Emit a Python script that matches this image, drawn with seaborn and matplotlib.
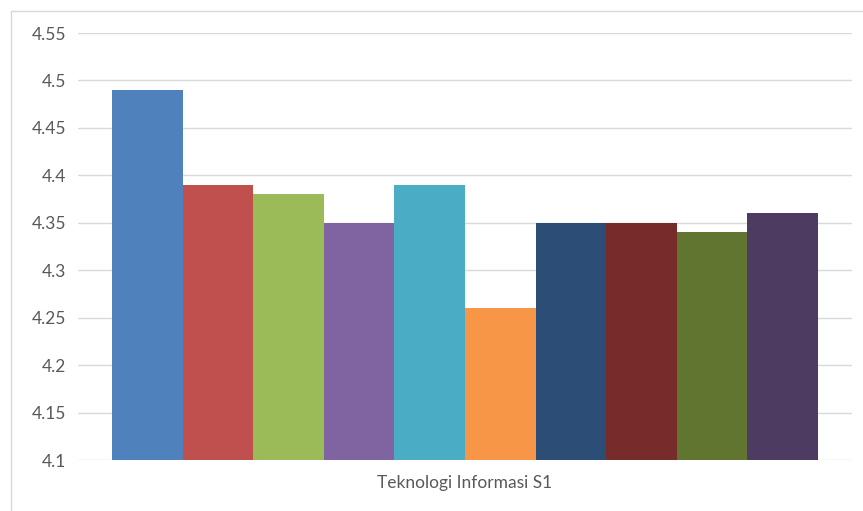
import matplotlib
matplotlib.use("Agg")
import matplotlib.pyplot as plt
from matplotlib.patches import Rectangle
import pandas as pd
import seaborn as sns

category = ["Teknologi Informasi S1"]
series = ["Seri 1", "Seri 2", "Seri 3", "Seri 4", "Seri 5",
          "Seri 6", "Seri 7", "Seri 8", "Seri 9", "Seri 10"]
values = [4.49, 4.39, 4.38, 4.35, 4.39, 4.26, 4.35, 4.35, 4.34, 4.36]
colors = ["#4F81BD", "#C0504D", "#9BBB59", "#8064A2", "#4BACC6",
          "#F79646", "#2C4D75", "#772C2A", "#5F7530", "#4D3B62"]
y_ticks = [4.1, 4.15, 4.2, 4.25, 4.3, 4.35, 4.4, 4.45, 4.5, 4.55]
y_labels = ["4.1", "4.15", "4.2", "4.25", "4.3", "4.35", "4.4", "4.45", "4.5", "4.55"]

df = pd.DataFrame({"kategori": category * len(series),
                   "seri": series,
                   "nilai": values})

sns.set_theme(style="white")
plt.rcParams["font.family"] = ["Lato", "DejaVu Sans"]

fig = plt.figure(figsize=(8.63, 5.11), dpi=100)
ax = fig.add_axes([78 / 863, 1 - 460 / 511, 774 / 863, (460 - 33) / 511])

sns.barplot(data=df, x="kategori", y="nilai", hue="seri", palette=colors,
            width=0.911, gap=0, legend=False, ax=ax, saturation=1,
            linewidth=0, zorder=3)

ax.set_xlim(-0.5, 0.5)
ax.set_ylim(4.1, 4.55)
ax.set_yticks(y_ticks)
ax.set_yticklabels(y_labels)
ax.yaxis.grid(True, color="#D9D9D9", linewidth=1.0, zorder=0)
ax.set_axisbelow(True)
for s in ax.spines.values():
    s.set_visible(False)
ax.tick_params(axis="y", length=0, pad=8.5, labelsize=12.5, labelcolor="#595959")
ax.tick_params(axis="x", length=0, pad=11, labelsize=12.5, labelcolor="#595959")
ax.set_xlabel("")
ax.set_ylabel("")

# light chart-area frame
fig.patches.append(Rectangle((11 / 863, -0.1), 1.2, 1.1 - 11 / 511,
                             transform=fig.transFigure, fill=False,
                             edgecolor="#D9D9D9", linewidth=1.0, zorder=0))

fig.savefig("out.png", dpi=100)
